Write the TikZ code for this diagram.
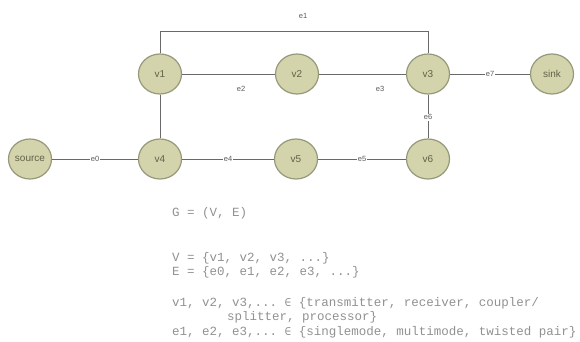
\documentclass[tikz,border=0pt]{standalone}
\usepackage{fontspec}
\setmainfont{Liberation Sans}
\setmonofont{Liberation Mono}
\newfontfamily\symmono{DejaVu Sans Mono}
\usetikzlibrary{shapes.geometric}
\definecolor{nodefill}{RGB}{212,212,172}
\definecolor{nodeborder}{RGB}{150,152,122}
\definecolor{nodetext}{RGB}{95,98,70}
\definecolor{edgecol}{RGB}{105,105,105}
\definecolor{labcol}{RGB}{90,90,90}
\definecolor{textcol}{RGB}{145,145,145}
\newcommand{\elem}{{\symmono\fontsize{11}{14}\selectfont ∈}}
\begin{document}
\begin{tikzpicture}[x=1pt,y=1pt,
  vert/.style={ellipse, draw=nodeborder, line width=1.2pt, fill=nodefill, minimum width=43pt, minimum height=40pt, inner sep=0pt, text=nodetext, font=\fontsize{10}{12}\selectfont},
  edge/.style={draw=edgecol, line width=0.9pt},
  elab/.style={font=\fontsize{7.5}{9}\selectfont, text=labcol, inner sep=1pt},
  onlab/.style={elab, fill=white},
  mono/.style={anchor=west, inner sep=0pt, text=textcol, font=\ttfamily\fontsize{12.5}{14}\selectfont}]
\useasboundingbox (0,0) rectangle (580,342);
% vertices
\node[vert] (source) at (30,183) {source};
\node[vert] (v1) at (160,268) {v1};
\node[vert] (v2) at (297,268) {v2};
\node[vert] (v3) at (428,268) {v3};
\node[vert] (sink) at (552,268) {sink};
\node[vert] (v4) at (160,183) {v4};
\node[vert] (v5) at (296,183) {v5};
\node[vert] (v6) at (428,183) {v6};
% edges
\coordinate (t1) at (160,311);
\coordinate (t3) at (428,311);
\draw[edge] (v1.north) -- (t1) -- (t3) -- (v3.north);
\node[elab] (le1) at (303,326) {e1};
\draw[edge] (v1) -- (v2);
\node[elab] (le2) at (241,253) {e2};
\draw[edge] (v2) -- (v3);
\node[elab] (le3) at (380,253) {e3};
\draw[edge] (v3) -- node[onlab] {e7} (sink);
\draw[edge] (v3) -- node[onlab, pos=0.52] {e6} (v6);
\draw[edge] (v1) -- (v4);
\draw[edge] (source) -- node[onlab, pos=0.5] {e0} (v4);
\draw[edge] (v4) -- node[onlab, pos=0.5] {e4} (v5);
\draw[edge] (v5) -- node[onlab, pos=0.5] {e5} (v6);
% text block
\node[mono] (g) at (172,129) {G = (V, E)};
\node[mono] (vv) at (172,84) {V = \{v1, v2, v3, ...\}};
\node[mono] (ee) at (172,70) {E = \{e0, e1, e2, e3, ...\}};
\node[mono] (vt) at (172,39) {v1, v2, v3,... \elem{} \{transmitter, receiver, coupler/};
\node[mono] (vs) at (172,25) {\hspace*{4.4em}splitter, processor\}};
\node[mono] (et) at (172,10) {e1, e2, e3,... \elem{} \{singlemode, multimode, twisted pair\}};
\end{tikzpicture}
\end{document}
